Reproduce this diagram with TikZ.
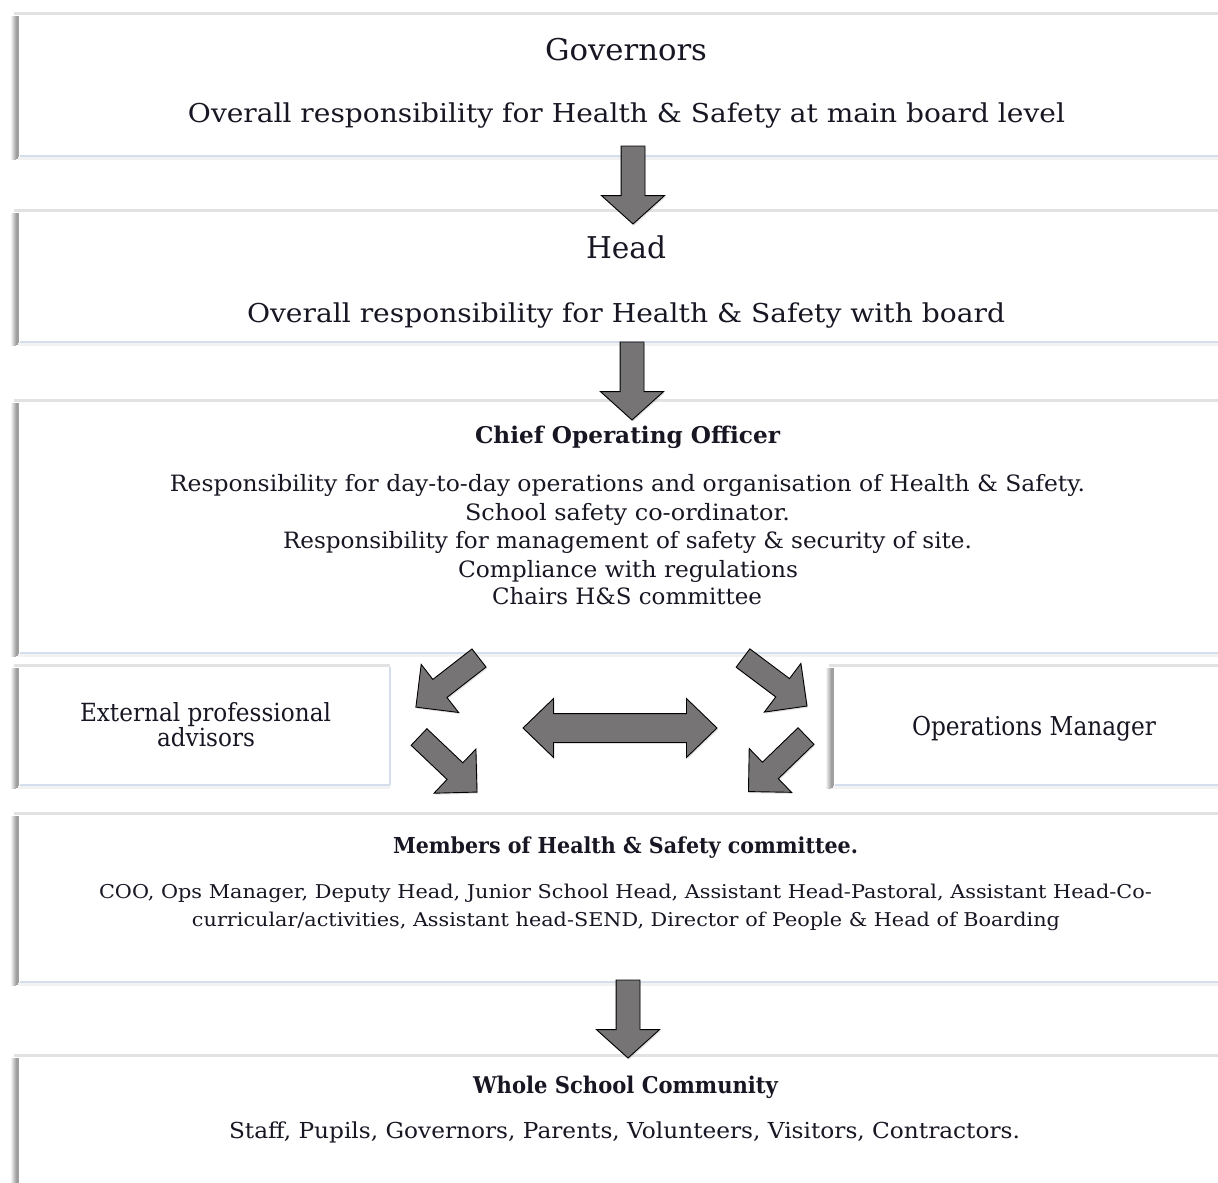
\documentclass[tikz,border=0pt]{standalone}
\usepackage{fontspec}
\setmainfont{DejaVu Serif}
\usepackage{graphicx}
\usetikzlibrary{shapes.arrows,shadows}

\definecolor{txtc}{RGB}{25,22,35}
\definecolor{arrowc}{RGB}{118,116,117}
\definecolor{bluec}{RGB}{212,222,236}
\definecolor{topc}{RGB}{226,226,226}

\newsavebox\fitbox
\newcommand\fitx[3]{\sbox\fitbox{\fontsize{#2}{#2}\selectfont #3}%
  \pgfmathsetmacro\fitratio{#1/\the\wd\fitbox}%
  \scalebox{\fitratio}[1]{\usebox\fitbox}}

\tikzset{
  txt/.style={anchor=base, inner sep=0pt, outer sep=0pt, text=txtc},
  panelnode/.style={fill=white, draw=none, inner sep=0pt, outer sep=0pt},
  blk/.style={draw=black, line width=0.9pt, fill=arrowc, inner xsep=0pt, outer sep=0pt,
    drop shadow={opacity=0.25, shadow xshift=1pt, shadow yshift=-1.5pt}},
  downarr/.style={blk, single arrow, single arrow head extend=19.5pt, inner ysep=11.5pt,
    single arrow tip angle=96, minimum height=78pt, anchor=tail, rotate=-90},
  diagarr/.style={blk, single arrow, single arrow head extend=19pt, inner ysep=11pt,
    single arrow tip angle=90, minimum height=80pt, anchor=tail},
}

% name, x1, y1, x2, y2 (pixel coordinates, y downwards)
\newcommand\panel[5]{%
  \shade[left color=gray!10, right color=gray!75] ({#2-9},{-#3-1}) rectangle ({#2-4},{-#5-3});
  \fill[gray!75] ({#2-4},{-#3-1}) rectangle ({#2-1},{-#5-3});
  \fill[topc] ({#2-6},{-#3+3}) rectangle (#4,{-#3});
  \fill[gray!10] ({#2-2},{-#5-1}) rectangle (#4,{-#5-4});
  \node[panelnode, minimum width={#4-#2}, minimum height={#5-#3}] (#1) at ({(#2+#4)/2},{-(#3+#5)/2}) {};
  \draw[bluec, line width=1.5pt] (#1.south west) -- (#1.south east);
  \draw[bluec, line width=1.2pt] (#1.south east) -- (#1.north east);
}

\begin{document}
\begin{tikzpicture}[x=1pt,y=1pt]
\useasboundingbox (0,0) rectangle (1218,-1183);
\clip (0,0) rectangle (1218,-1183);
\fill[white] (0,0) rectangle (1218,-1183);

\panel{gov}{20}{15}{1235}{156}
\panel{head}{20}{212}{1235}{342}
\panel{coo}{20}{402}{1235}{653}
\panel{ext}{20}{667}{390}{785}
\panel{ops}{835}{667}{1235}{785}
\panel{members}{20}{815}{1235}{982}
\panel{whole}{20}{1057}{1235}{1200}

% texts
\node[txt] (govt) at (626,-60) {\fitx{162}{30}{Governors}};
\node[txt] (govd) at (626.5,-122) {\fitx{877}{26}{Overall responsibility for Health \& Safety at main board level}};
\node[txt] (headt) at (626,-258) {\fitx{80}{30}{Head}};
\node[txt] (headd) at (626,-322) {\fitx{758}{26}{Overall responsibility for Health \& Safety with board}};

\node[txt] (coot) at (627.5,-443.5) {\fitx{305}{23}{\bfseries Chief Operating Officer}};
\node[txt] (cood1) at (627.5,-491) {\fitx{915}{22.5}{Responsibility for day-to-day operations and organisation of Health \& Safety.}};
\node[txt] (cood2) at (627.5,-520) {\fitx{325}{22.5}{School safety co-ordinator.}};
\node[txt] (cood3) at (627.5,-548) {\fitx{689}{22.5}{Responsibility for management of safety \& security of site.}};
\node[txt] (cood4) at (628,-577) {\fitx{340}{22.5}{Compliance with regulations}};
\node[txt] (cood5) at (627,-604) {\fitx{270}{22.5}{Chairs H\&S committee}};

\node[txt] (extt1) at (205.5,-721.5) {\fitx{251}{25}{External professional}};
\node[txt] (extt2) at (206,-746.5) {\fitx{98}{25}{advisors}};
\node[txt] (opst) at (1034,-735) {\fitx{244}{26}{Operations Manager}};

\node[txt] (memt) at (625.5,-853) {\fitx{465}{22}{\bfseries Members of Health \& Safety committee.}};
\node[txt] (memd1) at (625.5,-898) {\fitx{1053}{19}{COO, Ops Manager, Deputy Head, Junior School Head, Assistant Head-Pastoral, Assistant Head-Co-}};
\node[txt] (memd2) at (626,-926) {\fitx{868}{19}{curricular/activities, Assistant head-SEND, Director of People \& Head of Boarding}};

\node[txt] (wholet) at (625.5,-1093) {\fitx{305}{23}{\bfseries Whole School Community}};
\node[txt] (wholed) at (624.5,-1138) {\fitx{791}{22}{Staff, Pupils, Governors, Parents, Volunteers, Visitors, Contractors.}};

% block arrows
\node[downarr] (a1) at (633,-146) {};
\node[downarr] (a2) at (632,-342) {};
\node[downarr] (a3) at (628,-980) {};

\node[diagarr, rotate=-142.1] (d1) at (479,-658) {};
\node[diagarr, rotate=-43.5] (d2) at (419,-737) {};
\node[diagarr, rotate=-36.9] (d3) at (743,-658) {};
\node[diagarr, rotate=-136.0] (d4) at (806,-736) {};

\node[blk, double arrow, double arrow head extend=15pt, inner ysep=14pt,
  double arrow tip angle=88, minimum height=194pt] (dbl) at (620,-728) {};
\end{tikzpicture}
\end{document}
